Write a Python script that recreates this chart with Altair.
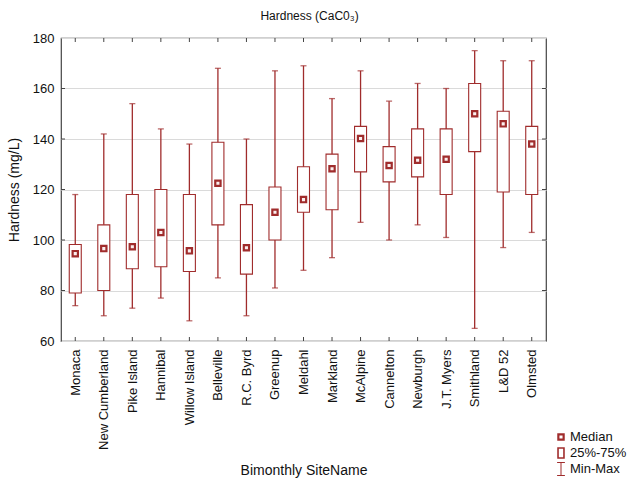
import altair as alt
import pandas as pd

# Hardness (CaCO3) summary per bimonthly site, mg/L
sites = ["Monaca", "New Cumberland", "Pike Island", "Hannibal", "Willow Island",
         "Belleville", "R.C. Byrd", "Greenup", "Meldahl", "Markland", "McAlpine",
         "Cannelton", "Newburgh", "J.T. Myers", "Smithland", "L&D 52", "Olmsted"]
mins = [74, 70, 73, 77, 68, 85, 70, 81, 88, 93, 107, 100, 106, 101, 65, 97, 103]
q1s = [79, 80, 88.6, 89.4, 87.5, 106, 86.5, 100, 111, 112, 127, 123, 125, 118, 135, 119, 118]
medians = [94.6, 96.6, 97.3, 103, 95.7, 122.5, 96.9, 111, 116, 128.2, 140.2, 129.5, 131.6, 132, 150, 146, 138]
q3s = [98.2, 106, 118, 120, 118, 138.7, 114, 121, 129, 134, 145, 137, 144, 144, 162, 151, 145]
maxs = [118, 142, 154, 144, 138, 168, 140, 167, 169, 156, 167, 155, 162, 160, 175, 171, 171]

y_ticks = [60, 80, 100, 120, 140, 160, 180]
legend_items = ["Median", "25%-75%", "Min-Max"]

RED = "#A02C2C"
W, H = 485, 303
FONT = "Liberation Sans"

df = pd.DataFrame({"site": sites, "min": mins, "q1": q1s, "median": medians,
                   "q3": q3s, "max": maxs})
grid_df = pd.DataFrame({"v": y_ticks[1:-1]})
leg_df = pd.DataFrame({"item": legend_items})

x_enc = alt.X("site:N", sort=sites,
              scale=alt.Scale(type="point", padding=0.5),
              axis=alt.Axis(title="Bimonthly SiteName", labelAngle=-90,
                            labelAlign="right", labelBaseline="middle",
                            labelPadding=8, ticks=False, domain=False,
                            labelFontSize=13, labelColor="#111",
                            titleFontSize=14, titleFontWeight="normal",
                            titleColor="#111", titlePadding=14,
                            labelFont=FONT, titleFont=FONT))
y_scale = alt.Scale(domain=[60, 180], nice=False, zero=False)
y_axis = alt.Axis(title="Hardness (mg/L)", values=y_ticks, ticks=False,
                  domain=False, grid=True, gridColor="#DADADA",
                  labelFontSize=13, labelColor="#111", labelPadding=7,
                  titleFontSize=14, titleFontWeight="normal", titleColor="#111",
                  titlePadding=11, labelFont=FONT, titleFont=FONT)

base = alt.Chart(df)

whisker = base.mark_rule(color=RED, strokeWidth=1.3).encode(
    x=x_enc,
    y=alt.Y("min:Q", scale=y_scale, axis=y_axis),
    y2="max:Q")

cap_lo = base.mark_tick(color=RED, size=6, thickness=1.3).encode(
    x=alt.X("site:N", sort=sites), y=alt.Y("min:Q"))
cap_hi = base.mark_tick(color=RED, size=6, thickness=1.3).encode(
    x=alt.X("site:N", sort=sites), y=alt.Y("max:Q"))

box = base.mark_bar(size=12, fill="white", stroke=RED, strokeWidth=1.1).encode(
    x=alt.X("site:N", sort=sites), y=alt.Y("q1:Q"), y2="q3:Q")

median = base.mark_point(shape="square", size=28, filled=True, fill="#FBEFEF",
                         stroke=RED, strokeWidth=2.2, opacity=1).encode(
    x=alt.X("site:N", sort=sites), y=alt.Y("median:Q"))

# inward tick marks on the frame
tick_top = base.mark_rule(color="#444").encode(
    x=alt.X("site:N", sort=sites), y=alt.value(0), y2=alt.value(4))
tick_bot = base.mark_rule(color="#444").encode(
    x=alt.X("site:N", sort=sites), y=alt.value(H - 4), y2=alt.value(H))
tick_left = alt.Chart(grid_df).mark_rule(color="#444").encode(
    y=alt.Y("v:Q"), x=alt.value(0), x2=alt.value(4))
tick_right = alt.Chart(grid_df).mark_rule(color="#444").encode(
    y=alt.Y("v:Q"), x=alt.value(W - 4), x2=alt.value(W))

main = alt.layer(whisker, cap_lo, cap_hi, box, median,
                 tick_top, tick_bot, tick_left, tick_right)

# key in the lower right corner, below the plot frame
key_y = alt.Y("item:N", sort=legend_items, axis=None,
              scale=alt.Scale(type="point", domain=legend_items,
                              range=[399, 431], padding=0))
shape_paths = ["square",
               "M-0.6,-1H0.6V1H-0.6Z",
               "M-0.6,-1H0.6M0,-1V1M-0.6,1H0.6"]
key_symbols = alt.Chart(leg_df).mark_point(
    filled=False, stroke=RED, fill="white", opacity=1).encode(
    x=alt.value(500), y=key_y,
    shape=alt.Shape("item:N", sort=legend_items, legend=None,
                    scale=alt.Scale(domain=legend_items, range=shape_paths)),
    size=alt.Size("item:N", sort=legend_items, legend=None,
                  scale=alt.Scale(domain=legend_items, range=[28, 169, 169])),
    strokeWidth=alt.StrokeWidth("item:N", sort=legend_items, legend=None,
                                scale=alt.Scale(domain=legend_items,
                                                range=[2.2, 1, 1.2])),
)
key_labels = alt.Chart(leg_df).mark_text(
    align="left", baseline="middle", fontSize=13, font=FONT, color="#111").encode(
    x=alt.value(509), y=key_y, text="item:N")
key = alt.layer(key_symbols, key_labels)

chart = alt.layer(main, key).resolve_scale(y="independent").properties(
    width=W, height=H,
    title=alt.Title("Hardness (CaC0₃)", fontSize=12, fontWeight="normal",
                    font=FONT, color="#111", offset=9, dx=6),
    autosize=alt.AutoSizeParams(type="none"),
    padding={"left": 61, "top": 38, "right": 86, "bottom": 140},
    background="white",
).configure_view(stroke="#444", strokeWidth=1.2)

chart.save("out.html", embed_options={"renderer": "svg", "actions": False})
